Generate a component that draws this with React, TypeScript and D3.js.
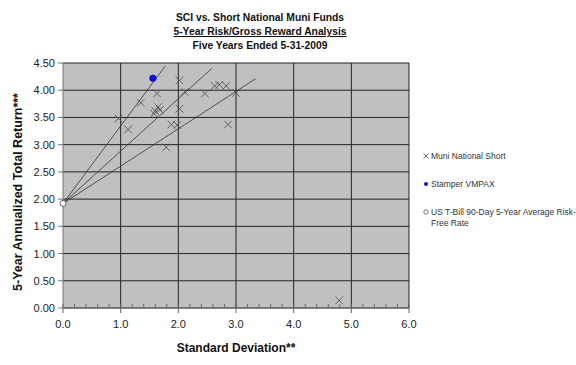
import * as d3 from "d3";

// Muni National Short funds: [std dev, 5-yr return]
const muniStdDev = [0.96, 1.13, 1.35, 1.58, 1.6, 1.63, 1.65, 1.68, 1.79, 1.88, 1.98, 2.02, 2.02, 2.11, 2.46, 2.63, 2.71, 2.83, 2.86, 3.0, 4.79];
const muniReturn = [3.48, 3.28, 3.77, 3.57, 3.62, 3.94, 3.69, 3.64, 2.95, 3.37, 3.36, 4.18, 3.66, 3.97, 3.94, 4.08, 4.1, 4.08, 3.37, 3.95, 0.14];

const stamper = { sd: 1.56, ret: 4.22 };
const riskFree = { sd: 0, ret: 1.92 };

// capital market style lines from the risk-free point
const lineEndSd = [1.77, 2.58, 3.34];
const lineEndRet = [4.44, 4.4, 4.21];

const xTicks = [0, 1, 2, 3, 4, 5, 6];
const yTicks = [0, 0.5, 1, 1.5, 2, 2.5, 3, 3.5, 4, 4.5];

const legendLabels = [
  "Muni National Short",
  "Stamper VMPAX",
  "US T-Bill 90-Day 5-Year Average Risk-",
];

export default function App() {
  const width = 576;
  const height = 365;
  const plot = { left: 63, right: 409, top: 63, bottom: 308 };

  const x = d3.scaleLinear().domain([0, 6]).range([plot.left, plot.right]);
  const y = d3.scaleLinear().domain([0, 4.5]).range([plot.bottom, plot.top]);
  const minorTicks = d3.range(0, 6.001, 0.2).filter((v) => Math.abs(v - Math.round(v)) > 0.01);

  const font = "Arial, 'Liberation Sans', sans-serif";
  const xMark = (cx: number, cy: number, r: number, key: string | number) => (
    <path
      key={key}
      d={`M${cx - r},${cy - r}L${cx + r},${cy + r}M${cx - r},${cy + r}L${cx + r},${cy - r}`}
      stroke="#555"
      strokeWidth={0.9}
      fill="none"
    />
  );

  return (
    <svg
      width={width}
      height={height}
      style={{ position: "absolute", left: 0, top: 0, background: "#fff" }}
      fontFamily={font}
    >
      {/* titles */}
      <g textAnchor="middle" fontWeight="bold" fontSize={10.3} fill="#111">
        <text x={260} y={21}>SCI vs. Short National Muni Funds</text>
        <text x={260} y={35} textDecoration="underline">5-Year Risk/Gross Reward Analysis</text>
        <text x={260} y={49}>Five Years Ended 5-31-2009</text>
      </g>

      <rect x={plot.left} y={plot.top} width={plot.right - plot.left} height={plot.bottom - plot.top} fill="#c0c0c0" />

      {/* gridlines */}
      {yTicks.map((t) => (
        <line key={"gy" + t} x1={plot.left} x2={plot.right} y1={y(t)} y2={y(t)} stroke="#222" strokeWidth={1} />
      ))}
      {xTicks.slice(1).map((t) => (
        <line key={"gx" + t} x1={x(t)} x2={x(t)} y1={plot.top} y2={plot.bottom} stroke="#222" strokeWidth={1} />
      ))}

      {/* axes */}
      <line x1={plot.left} x2={plot.left} y1={plot.top} y2={plot.bottom} stroke="#777" />
      <line x1={plot.left} x2={plot.right} y1={plot.bottom} y2={plot.bottom} stroke="#777" />
      {yTicks.map((t) => (
        <line key={"ty" + t} x1={plot.left - 5} x2={plot.left} y1={y(t)} y2={y(t)} stroke="#777" />
      ))}
      {xTicks.map((t) => (
        <line key={"tx" + t} x1={x(t)} x2={x(t)} y1={plot.bottom - 4} y2={plot.bottom + 5} stroke="#666" />
      ))}
      {minorTicks.map((t) => (
        <line key={"mx" + t} x1={x(t)} x2={x(t)} y1={plot.bottom - 4} y2={plot.bottom} stroke="#666" />
      ))}

      <g fontSize={11} fill="#222">
        {yTicks.map((t) => (
          <text key={"ly" + t} x={plot.left - 8} y={y(t) + 4} textAnchor="end">
            {t.toFixed(2)}
          </text>
        ))}
        {xTicks.map((t) => (
          <text key={"lx" + t} x={x(t)} y={plot.bottom + 20} textAnchor="middle">
            {t.toFixed(1)}
          </text>
        ))}
      </g>

      <text x={236} y={352} textAnchor="middle" fontWeight="bold" fontSize={12} fill="#111">
        Standard Deviation**
      </text>
      <text
        transform={`translate(22,192) rotate(-90)`}
        textAnchor="middle"
        fontWeight="bold"
        fontSize={12.5}
        fill="#111"
      >
        5-Year Annualized Total Return***
      </text>

      {/* lines from risk-free rate */}
      {lineEndSd.map((sd, i) => (
        <line
          key={"l" + i}
          x1={x(riskFree.sd)}
          y1={y(riskFree.ret)}
          x2={x(sd)}
          y2={y(lineEndRet[i])}
          stroke="#333"
          strokeWidth={0.8}
        />
      ))}

      {muniStdDev.map((sd, i) => xMark(x(sd), y(muniReturn[i]), 3.8, "m" + i))}

      <circle cx={x(stamper.sd)} cy={y(stamper.ret)} r={3.3} fill="#1010e0" stroke="#000080" strokeWidth={0.6} />
      <circle cx={x(riskFree.sd)} cy={y(riskFree.ret)} r={3} fill="#fff" stroke="#555" strokeWidth={0.9} />

      {/* legend */}
      <g fontSize={8.5} fill="#333">
        {xMark(426, 156, 2.5, "lg0")}
        <text x={431} y={159}>{legendLabels[0]}</text>
        <circle cx={426} cy={184} r={2} fill="#1010e0" />
        <text x={431} y={187}>{legendLabels[1]}</text>
        <circle cx={426} cy={212} r={2.2} fill="#fff" stroke="#555" strokeWidth={0.8} />
        <text x={431} y={215}>{legendLabels[2]}</text>
        <text x={431} y={226}>Free Rate</text>
      </g>
    </svg>
  );
}
